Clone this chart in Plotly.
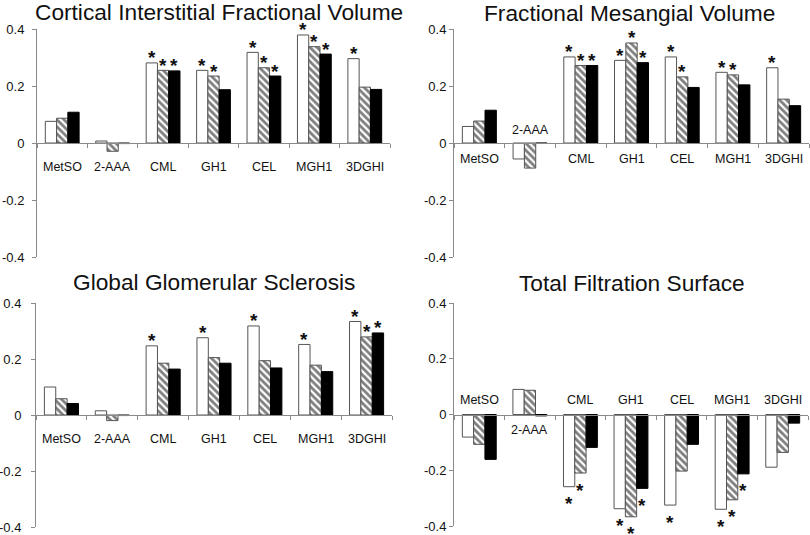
import plotly.graph_objects as go

categories = ["MetSO", "2-AAA", "CML", "GH1", "CEL", "MGH1", "3DGHI"]
y_tick_vals = [-0.4, -0.2, 0, 0.2, 0.4]
y_tick_text = ["-0.4", "-0.2", "0", "0.2", "0.4"]

titles = ["Cortical Interstitial Fractional Volume", "Fractional Mesangial Volume",
          "Global Glomerular Sclerosis", "Total Filtration Surface"]

# Panel 1: Cortical Interstitial Fractional Volume
p1_open = [0.076, 0.007, 0.281, 0.255, 0.318, 0.379, 0.296]
p1_hatch = [0.087, -0.029, 0.255, 0.235, 0.264, 0.338, 0.196]
p1_solid = [0.108, -0.002, 0.253, 0.187, 0.235, 0.312, 0.188]
p1_sig_open = [0, 0, 1, 1, 1, 1, 1]
p1_sig_hatch = [0, 0, 1, 1, 1, 1, 0]
p1_sig_solid = [0, 0, 1, 0, 1, 1, 0]

# Panel 2: Fractional Mesangial Volume
p2_open = [0.058, -0.056, 0.302, 0.290, 0.302, 0.248, 0.264]
p2_hatch = [0.077, -0.088, 0.272, 0.351, 0.232, 0.239, 0.154]
p2_solid = [0.115, -0.001, 0.272, 0.282, 0.195, 0.204, 0.131]
p2_sig_open = [0, 0, 1, 1, 1, 1, 1]
p2_sig_hatch = [0, 0, 1, 1, 1, 1, 0]
p2_sig_solid = [0, 0, 1, 1, 0, 0, 0]

# Panel 3: Global Glomerular Sclerosis
p3_open = [0.100, 0.015, 0.247, 0.276, 0.318, 0.252, 0.334]
p3_hatch = [0.058, -0.020, 0.185, 0.205, 0.194, 0.178, 0.279]
p3_solid = [0.041, -0.002, 0.164, 0.185, 0.168, 0.155, 0.293]
p3_sig_open = [0, 0, 1, 1, 1, 1, 1]
p3_sig_hatch = [0, 0, 0, 0, 0, 0, 1]
p3_sig_solid = [0, 0, 0, 0, 0, 0, 1]

# Panel 4: Total Filtration Surface
p4_open = [-0.081, 0.090, -0.259, -0.338, -0.325, -0.340, -0.189]
p4_hatch = [-0.107, 0.087, -0.210, -0.367, -0.203, -0.306, -0.136]
p4_solid = [-0.161, -0.005, -0.118, -0.265, -0.107, -0.213, -0.031]
p4_sig_open = [0, 0, 1, 1, 1, 1, 0]
p4_sig_hatch = [0, 0, 1, 1, 0, 1, 0]
p4_sig_solid = [0, 0, 0, 1, 0, 1, 0]

panels = [
    (p1_open, p1_hatch, p1_solid, p1_sig_open, p1_sig_hatch, p1_sig_solid),
    (p2_open, p2_hatch, p2_solid, p2_sig_open, p2_sig_hatch, p2_sig_solid),
    (p3_open, p3_hatch, p3_solid, p3_sig_open, p3_sig_hatch, p3_sig_solid),
    (p4_open, p4_hatch, p4_solid, p4_sig_open, p4_sig_hatch, p4_sig_solid),
]

W, H = 810, 535
# pixel layout of each panel: (x_left, x_right, y_top(0.4), y_bottom(-0.4))
px = [(37, 390, 29, 257), (454, 809, 29, 257), (36, 392, 303, 527), (454, 808, 303, 526)]
tick_standoff = [5, 0, 7, 0]
# category label vertical offset in px (per category), positive = above zero line
label_shift = [
    [-24] * 7,
    [-16, 13, -16, -16, -16, -16, -16],
    [-24] * 7,
    [15, -15, 15, 15, 15, 15, 15],
]
title_pos = [(219, 12), (629, 13), (214, 282), (632, 283)]

AX = "#8a8a8a"
FONT = "Liberation Sans, Arial, sans-serif"
bargap = 0.33
bw = (1 - bargap) / 3

fig = go.Figure()
annotations = []
layout = {}
for k, (po, ph, ps, so, sh, ss) in enumerate(panels):
    n = k + 1
    xl, xr, yt, yb = px[k]
    xdom = [xl / W, xr / W]
    ydom = [(H - yb) / H, (H - yt) / H]
    xa = "x" if n == 1 else f"x{n}"
    ya = "y" if n == 1 else f"y{n}"
    fig.add_trace(go.Bar(x=categories, y=po, xaxis=xa, yaxis=ya,
                         marker=dict(color="white", line=dict(color="#555555", width=1)),
                         showlegend=False))
    fig.add_trace(go.Bar(x=categories, y=ph, xaxis=xa, yaxis=ya,
                         marker=dict(color="white", line=dict(color="#555555", width=1),
                                     pattern=dict(shape="\\", fgcolor="black", bgcolor="white",
                                                  size=5, solidity=0.55)),
                         showlegend=False))
    fig.add_trace(go.Bar(x=categories, y=ps, xaxis=xa, yaxis=ya,
                         marker=dict(color="black", line=dict(color="black", width=1)),
                         showlegend=False))
    layout["xaxis" if n == 1 else f"xaxis{n}"] = dict(
        domain=xdom, anchor="free", position=(ydom[0] + ydom[1]) / 2,
        showline=True, linecolor=AX, linewidth=1, ticks="outside", ticklen=4,
        tickcolor=AX, tickson="boundaries", showticklabels=False, showgrid=False,
        zeroline=False, range=[-0.5, 6.5], type="category", fixedrange=True,
        automargin=False)
    layout["yaxis" if n == 1 else f"yaxis{n}"] = dict(
        domain=ydom, anchor=xa, range=[-0.4, 0.4], tickvals=y_tick_vals,
        ticktext=y_tick_text, showline=True, linecolor=AX, linewidth=1,
        ticks="outside", ticklen=4, tickcolor=AX, showgrid=False, zeroline=False,
        automargin=False, fixedrange=True, ticklabelstandoff=tick_standoff[k],
        tickfont=dict(family=FONT, size=13, color="#111111"))
    # category labels
    for i, c in enumerate(categories):
        annotations.append(dict(x=i, y=0, xref=xa, yref=ya, text=c, showarrow=False,
                                yshift=label_shift[k][i],
                                font=dict(family=FONT, size=12.5, color="#111111")))
    # significance asterisks
    for j, (vals, sig) in enumerate([(po, so), (ph, sh), (ps, ss)]):
        for i, (v, s) in enumerate(zip(vals, sig)):
            if s:
                annotations.append(dict(x=i + (j - 1) * bw, y=v, xref=xa, yref=ya,
                                        text="<b>*</b>", showarrow=False,
                                        yshift=5 if v >= 0 else -17,
                                        font=dict(family=FONT, size=19, color="#111111")))
    tx, ty = title_pos[k]
    annotations.append(dict(x=tx / W, y=1 - ty / H, xref="paper", yref="paper",
                            text=titles[k], showarrow=False, xanchor="center", yanchor="middle",
                            font=dict(family=FONT, size=22.7, color="#111111")))

fig.update_layout(**layout)
fig.update_layout(width=W, height=H, margin=dict(l=0, r=0, t=0, b=0, pad=0, autoexpand=False),
                  paper_bgcolor="white", plot_bgcolor="white",
                  barmode="group", bargap=bargap, bargroupgap=0,
                  annotations=annotations, showlegend=False)
fig.write_html("out.html", config={"displayModeBar": False},
               post_script="document.body.style.margin='0';document.body.style.overflow='hidden';")
